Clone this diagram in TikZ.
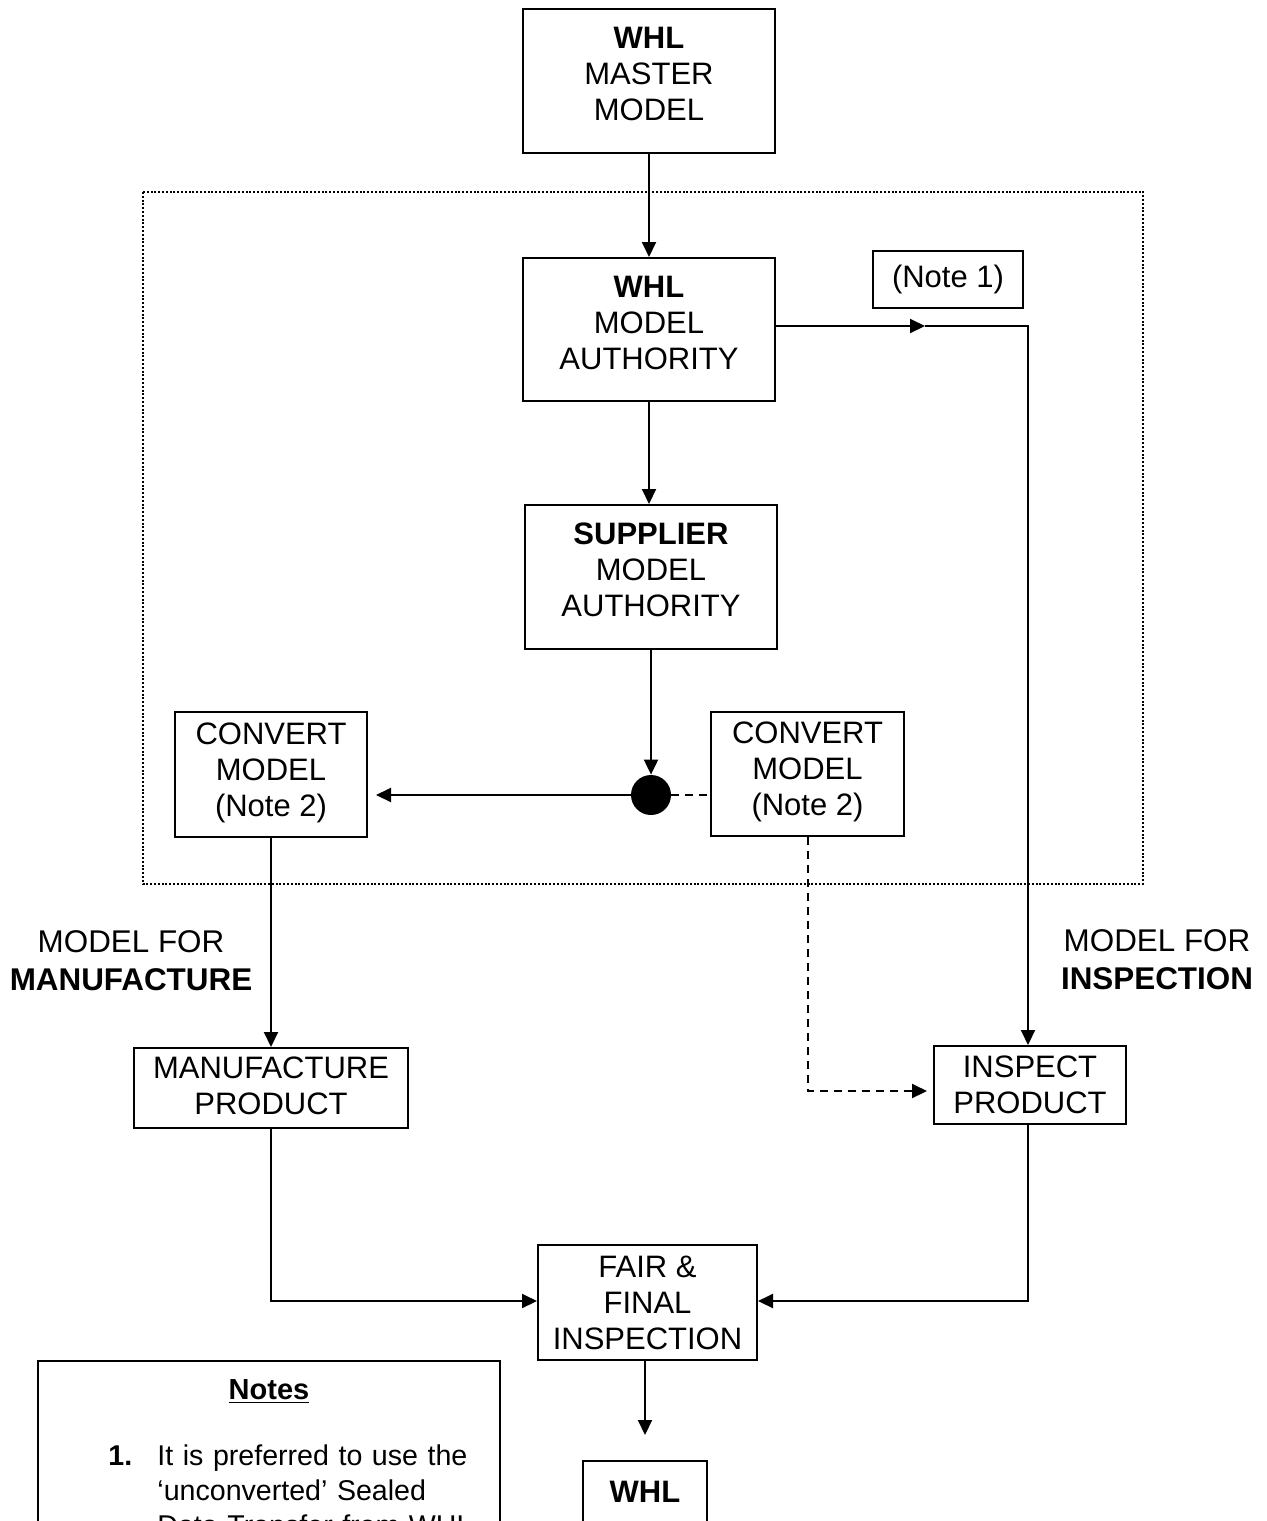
\documentclass[tikz,border=0pt]{standalone}
\usepackage{fontspec}
\setmainfont{Liberation Sans}
\usetikzlibrary{arrows.meta,calc}
\begin{document}
\begin{tikzpicture}[x=0.5pt,y=-0.5pt,
  box/.style={draw, line width=1pt, align=center, inner sep=0pt, font=\fontsize{15.5}{18}\selectfont},
  bigbox/.style={box, minimum width=126pt, minimum height=72pt, text depth=7pt},
  tip/.style={-{Triangle[length=7.5pt,width=7pt]}},
  arr/.style={line width=1pt, tip},
  dsh/.style={line width=1pt, dash pattern=on 4pt off 3pt},
  lbl/.style={align=center, inner sep=0pt, font=\fontsize{15.7}{19}\selectfont},
  notetxt/.style={inner sep=0pt, font=\fontsize{14.3}{17.5}\selectfont},
]
\useasboundingbox (0,0) rectangle (1266,1521);
\clip (0,0) rectangle (1266,1521);

% dotted frame
\draw[line width=1pt, dash pattern=on 1pt off 0.9pt] (143,192) rectangle (1143,884);

% boxes
\node[bigbox] (master) at (649,81) {\textbf{WHL}\\MASTER\\MODEL};
\node[bigbox, minimum height=71.5pt] (auth) at (649,329.5) {\textbf{WHL}\\MODEL\\AUTHORITY};
\node[box, minimum width=75pt, minimum height=28.5pt] (note1) at (948,279.5) {(Note 1)};
\node[bigbox] (supp) at (651,577) {\textbf{SUPPLIER}\\MODEL\\AUTHORITY};
\node[box, minimum width=96pt, minimum height=62.5pt, text depth=5pt] (convL) at (271,774.5) {CONVERT\\MODEL\\(Note 2)};
\node[box, minimum width=96.5pt, minimum height=62pt, text depth=5pt] (convR) at (807.5,774) {CONVERT\\MODEL\\(Note 2)};
\node[circle, fill=black, minimum size=20pt, inner sep=0pt] (dot) at (651,795) {};
\node[box, minimum width=137pt, minimum height=40pt, text depth=2pt] (manu) at (271,1088) {MANUFACTURE\\PRODUCT};
\node[box, minimum width=96pt, minimum height=39pt] (insp) at (1030,1085) {INSPECT\\PRODUCT};
\node[box, minimum width=109.5pt, minimum height=57.5pt] (fair) at (647.5,1302.5) {FAIR \&\\FINAL\\INSPECTION};
\node[box, anchor=north, minimum width=62pt, text height=11pt, text depth=80pt, inner ysep=9.5pt] (whl2) at (645,1460) {\textbf{WHL}};

% side labels
\node[lbl] (lblM) at (131,961) {MODEL FOR\\\textbf{MANUFACTURE}};
\node[lbl] (lblI) at (1157,960) {MODEL FOR\\\textbf{INSPECTION}};

% notes
\node[draw, line width=1pt, anchor=north, minimum width=231pt, text height=11pt, text depth=200pt, inner ysep=8pt, inner xsep=0pt, font=\fontsize{14.5}{16}\selectfont\bfseries] (notes) at (269,1360) {\underline{Notes}};
\node[notetxt, anchor=base west, font=\fontsize{14.3}{17.5}\selectfont\bfseries] (n1num) at (108,1465) {1.};
\node[notetxt, anchor=base west, text width=170pt, align=left] (n1txt) at (157,1465) {It is preferred to use the\\‘unconverted’ Sealed\\Data Transfer from WHL};

% connectors
\draw[arr] (master.south) -- (auth.north);
\coordinate (mid) at (925,326);
\coordinate (cor) at (1028,326);
\draw[arr] (auth.east |- mid) -- (mid);
\draw[arr] (mid) -- (cor) -- (cor |- insp.north);
\draw[arr] (auth.south) -- (auth.south |- supp.north);
\draw[arr] (supp.south) -- (dot.north);
\draw[arr, shorten >=4pt] (dot.west) -- (dot.west -| convL.east);
\draw[dsh] (dot.east) -- (dot.east -| convR.west);
\coordinate (dcor) at (807.5,1091);
\draw[dsh, tip, shorten >=3pt] (convR.south) -- (dcor) -- (dcor -| insp.west);
\draw[arr] (convL.south) -- (manu.north);
\coordinate (mcor) at (271,1301);
\draw[arr] (manu.south) -- (mcor) -- (mcor -| fair.west);
\coordinate (icor) at (1028,1301);
\draw[arr] (icor |- insp.south) -- (icor) -- (icor -| fair.east);
\coordinate (fend) at (645,1435);
\draw[arr] (fair.south -| fend) -- (fend);
\end{tikzpicture}
\end{document}
